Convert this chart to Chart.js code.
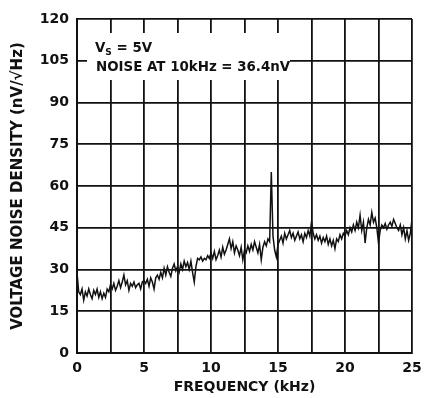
<!DOCTYPE html>
<html>
<head>
<meta charset="utf-8">
<script src="https://cdn.jsdelivr.net/npm/chart.js@4/dist/chart.umd.min.js"></script>
<style>
html,body{margin:0;padding:0;background:#fff;}
#wrap{position:relative;width:424px;height:398px;}
</style>
</head>
<body>
<div id="wrap"><canvas id="c" width="424" height="398"></canvas></div>
<script>
const freqKHz = [
0,0.125,0.25,0.375,0.5,0.625,0.75,0.875,1,1.125,1.25,1.375,1.5,1.625,1.75,1.875,2,2.125,2.25,2.375,
2.5,2.625,2.75,2.875,3,3.125,3.25,3.375,3.5,3.625,3.75,3.875,4,4.125,4.25,4.375,4.5,4.625,4.75,4.875,
5,5.125,5.25,5.375,5.5,5.625,5.75,5.875,6,6.125,6.25,6.375,6.5,6.625,6.75,6.875,7,7.125,7.25,7.375,
7.5,7.625,7.75,7.875,8,8.125,8.25,8.375,8.5,8.625,8.75,8.875,9,9.125,9.25,9.375,9.5,9.625,9.75,9.875,
10,10.125,10.25,10.375,10.5,10.625,10.75,10.875,11,11.125,11.25,11.375,11.5,11.625,11.75,11.875,12,12.125,12.25,12.375,
12.5,12.625,12.75,12.875,13,13.125,13.25,13.375,13.5,13.625,13.75,13.875,14,14.125,14.25,14.375,14.5,14.625,14.75,14.875,
15,15.125,15.25,15.375,15.5,15.625,15.75,15.875,16,16.125,16.25,16.375,16.5,16.625,16.75,16.875,17,17.125,17.25,17.375,
17.5,17.625,17.75,17.875,18,18.125,18.25,18.375,18.5,18.625,18.75,18.875,19,19.125,19.25,19.375,19.5,19.625,19.75,19.875,
20,20.125,20.25,20.375,20.5,20.625,20.75,20.875,21,21.125,21.25,21.375,21.5,21.625,21.75,21.875,22,22.125,22.25,22.375,
22.5,22.625,22.75,22.875,23,23.125,23.25,23.375,23.5,23.625,23.75,23.875,24,24.125,24.25,24.375,24.5,24.625,24.75,24.875,
25
];
const noiseNV = [
29,22,21,23,19,22,20.5,23,21,19.5,22.5,21,23,20,22,19.5,21.5,20,23,22,
24.5,23,25,22.5,24,26,23.5,25.5,28,24.5,26,22.5,25,24,25.5,23.5,24.5,25,23,25.5,
26,25,26.5,24,27,25.5,23,27,28,26.5,29,27,30.5,28,31,29,27.5,30.5,32,29.5,
31,29,32,30,33,31,32.5,30,33,29,25.5,31,34,33.5,34.5,33,34,33.5,35,34,
36,34,36.5,33.5,35,37,34.5,38,35.5,37,39,41,37.5,40,36,38.5,37,35,38,33.5,
37,36,38.5,36.5,39,37,40,38,36,39,33.5,38,40,38.5,41,40,65,42,37,34.5,
39,40.5,42,39.5,43,41,42.5,44,41.5,43,40.5,42,43.5,41,42.5,40,43,41.5,44,42,
47,43,41,42.5,40.5,42,39.5,41.5,40,42,39,41,38.5,40.5,37.5,41,40,42.5,41,43,
42,44,42.5,45,43.5,46,44,47,45,49.5,44,47,39.5,45,48,46,50.5,47,48.5,45,
39.5,44,46,45,46.5,44.5,46,47,45.5,48,46.5,45,44,46,42.5,45,41,44,40.5,43,
48
];
const yTicks = [0,15,30,45,60,75,90,105,120];
const xTickLabels = [0,5,10,15,20,25];
const xTitle = 'FREQUENCY (kHz)';
const yTitle = 'VOLTAGE NOISE DENSITY (nV/\u221AHz)';
const noteLine1 = ['V', 'S', ' = 5V'];
const noteLine2 = 'NOISE AT 10kHz = 36.4nV';

const FONT = "'DejaVu Sans', sans-serif";

const notePlugin = {
  id: 'note',
  afterDatasetsDraw(chart) {
    const ctx = chart.ctx;
    ctx.save();
    ctx.fillStyle = '#fff';
    ctx.fillRect(87, 33, 203, 47);
    ctx.fillStyle = '#111';
    ctx.textBaseline = 'alphabetic';
    ctx.textAlign = 'left';
    ctx.font = 'bold 13.4px ' + FONT;
    let x = 95;
    ctx.fillText(noteLine1[0], x, 52);
    x += ctx.measureText(noteLine1[0]).width;
    ctx.font = 'bold 9px ' + FONT;
    ctx.fillText(noteLine1[1], x, 55);
    x += ctx.measureText(noteLine1[1]).width;
    ctx.font = 'bold 13.4px ' + FONT;
    ctx.fillText(noteLine1[2], x, 52);
    ctx.fillText(noteLine2, 96, 71);
    ctx.restore();
  }
};

new Chart(document.getElementById('c'), {
  type: 'line',
  data: {
    datasets: [{
      data: freqKHz.map((f, i) => ({x: f, y: noiseNV[i]})),
      borderColor: '#111',
      borderWidth: 1.5,
      pointRadius: 0,
      tension: 0,
      fill: false
    }]
  },
  options: {
    responsive: false,
    animation: false,
    events: [],
    layout: {padding: {top: 19, right: 12, left: 0, bottom: 0}},
    plugins: {legend: {display: false}, tooltip: {enabled: false}},
    scales: {
      x: {
        type: 'linear', min: 0, max: 25,
        afterFit(s) { s.height = 45; s.paddingLeft = 0; s.paddingRight = 0; },
        ticks: {
          stepSize: 2.5, autoSkip: false, maxRotation: 0, padding: 7,
          color: '#111', font: {family: FONT, size: 14, weight: 'bold'},
          callback: v => xTickLabels.includes(v) ? String(v) : ''
        },
        grid: {color: '#111', lineWidth: 1.8, drawTicks: false},
        border: {color: '#111', width: 2},
        title: {display: true, text: xTitle, color: '#111', padding: {top: 0, bottom: 2},
          font: {family: FONT, size: 14, weight: 'bold'}}
      },
      y: {
        min: 0, max: 120,
        afterFit(s) { s.width = 77; s.paddingTop = 0; s.paddingBottom = 0; },
        afterBuildTicks(s) { s.ticks = yTicks.map(v => ({value: v})); },
        ticks: {
          padding: 8, color: '#111',
          font: {family: FONT, size: 14, weight: 'bold'}
        },
        grid: {color: '#111', lineWidth: 1.8, drawTicks: false},
        border: {color: '#111', width: 2},
        title: {display: true, text: yTitle, color: '#111', padding: {top: 9, bottom: 0},
          font: {family: FONT, size: 15, weight: 'bold'}}
      }
    }
  },
  plugins: [notePlugin]
});
</script>
</body>
</html>
